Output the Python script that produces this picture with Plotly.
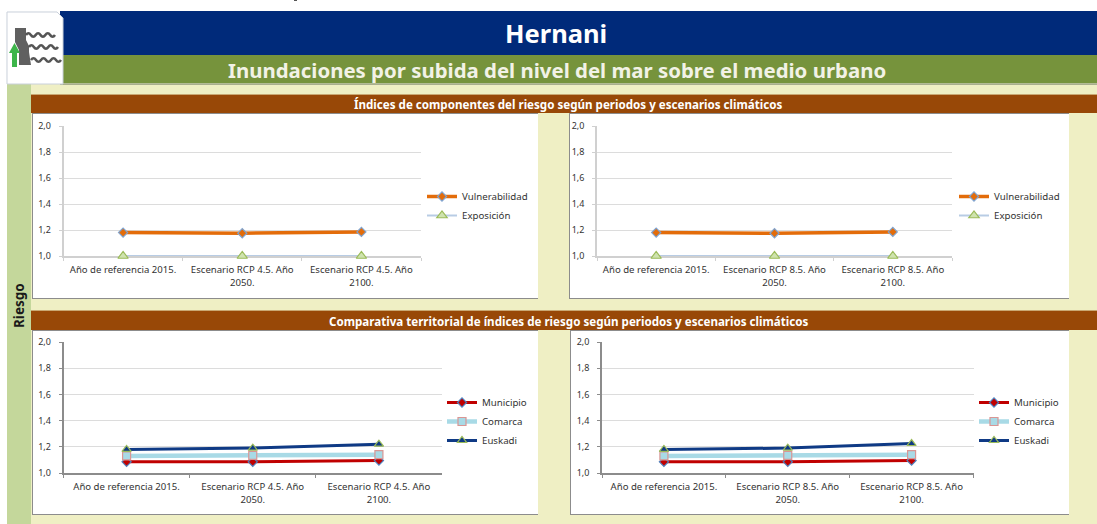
import plotly.graph_objects as go

W, H = 1097, 524

TITLE = "Hernani"
SUBTITLE = "Inundaciones por subida del nivel del mar sobre el medio urbano"
SECTION_TOP = "Índices de componentes del riesgo según periodos y escenarios climáticos"
SECTION_BOTTOM = "Comparativa territorial de índices de riesgo según periodos y escenarios climáticos"
SIDE_LABEL = "Riesgo"

categories_left = ["Año de referencia 2015.", "Escenario RCP 4.5. Año<br>2050.", "Escenario RCP 4.5. Año<br>2100."]
categories_right = ["Año de referencia 2015.", "Escenario RCP 8.5. Año<br>2050.", "Escenario RCP 8.5. Año<br>2100."]
y_ticks = [1.0, 1.2, 1.4, 1.6, 1.8, 2.0]

vulnerabilidad_a = [1.18, 1.175, 1.185]
exposicion_a = [1.0, 1.0, 1.0]
vulnerabilidad_b = [1.18, 1.175, 1.185]
exposicion_b = [1.0, 1.0, 1.0]

municipio_c = [1.085, 1.085, 1.095]
comarca_c = [1.13, 1.135, 1.14]
euskadi_c = [1.18, 1.19, 1.22]
municipio_d = [1.085, 1.085, 1.095]
comarca_d = [1.13, 1.135, 1.14]
euskadi_d = [1.18, 1.19, 1.225]


def px(x):
    return x / W


def py(y):
    return 1 - y / H


BLUE, OLIVE, BROWN = "#002A7A", "#76933C", "#984807"
CREAM, SIDE = "#EFEFC4", "#C4D79B"
TEXT = "#333333"

shapes = []


def rect(x0, y0, x1, y1, fill):
    shapes.append(dict(type="rect", xref="paper", yref="paper", layer="below",
                       x0=px(x0), x1=px(x1), y0=py(y1), y1=py(y0),
                       fillcolor=fill, line=dict(width=0)))


def path(points, fill=None, stroke=None, width=0):
    d = "M " + " L ".join(f"{px(a):.5f},{py(b):.5f}" for a, b in points) + (" Z" if fill else "")
    shapes.append(dict(type="path", xref="paper", yref="paper", layer="below", path=d,
                       fillcolor=fill if fill else "rgba(0,0,0,0)",
                       line=dict(color=stroke or "rgba(0,0,0,0)", width=width)))


def wave(x0, x1, y):
    d = f"M {px(x0):.5f},{py(y):.5f}"
    step = (x1 - x0) / 6
    for i in range(6):
        off = -3.4 if i % 2 == 0 else 3.4
        d += f" Q {px(x0 + step * (i + .5)):.5f},{py(y + off):.5f} {px(x0 + step * (i + 1)):.5f},{py(y):.5f}"
    shapes.append(dict(type="path", xref="paper", yref="paper", layer="below", path=d,
                       line=dict(color="#555555", width=2.6)))


# page bands
rect(7, 84, 31, 524, SIDE)
rect(31, 84, 1097, 524, CREAM)
rect(60, 11, 1097, 55, BLUE)
rect(60, 55, 1097, 83.5, OLIVE)
rect(60, 83.5, 1097, 85, "#A9AE8E")
rect(31, 94, 1097, 95, "#C9A873")
rect(31, 95, 1097, 113, BROWN)
rect(31, 310, 1097, 311, "#C9A873")
rect(31, 311, 1097, 330, BROWN)

# white chart panels with a thin shadow on their edges
panels = [(33, 114, 538, 298), (570, 114, 1069, 298), (33, 331, 538, 514), (571, 331, 1069, 514)]
for x0, y0, x1, y1 in panels:
    rect(x0 - 1, y0 - 1, x1, y1 + 1, "#8C8C8C")
    rect(x0, y0, x1, y1, "white")

# icon
path([(7, 12), (57, 12), (63, 18), (63, 84), (7, 84)], fill="white", stroke="#C9D0DA", width=1)
path([(15, 28), (26, 28), (26, 40), (29, 46), (29, 52), (31, 65), (19, 65), (19, 50), (15, 42)], fill="#606060")
path([(12, 67), (17, 67), (17, 53), (20, 53), (14.5, 43), (9, 53), (12, 53)], fill="#3DB54A")
wave(26, 55, 35)
wave(29, 58, 47)
wave(31, 61, 60)
rect(294, 0, 297, 1, "#555555")

annotations = [
    dict(text=f"<b>{TITLE}</b>", x=px(556), y=py(33), font=dict(size=25.5, color="white")),
    dict(text=f"<b>{SUBTITLE}</b>", x=px(557), y=py(70), font=dict(size=20.4, color="#F2F2E6")),
    dict(text=f"<b>{SECTION_TOP}</b>", x=px(568.5), y=py(104.5), font=dict(size=11.6, color="white")),
    dict(text=f"<b>{SECTION_BOTTOM}</b>", x=px(569), y=py(321), font=dict(size=11.6, color="white")),
    dict(text=f"<b>{SIDE_LABEL}</b>", x=px(19), y=py(306), textangle=-90, font=dict(size=13.5, color="#1A1A1A")),
]
for a in annotations:
    a.update(xref="paper", yref="paper", showarrow=False, xanchor="center", yanchor="middle")

fig = go.Figure()


def line_trace(name, cats, values, n, legend, color, width, symbol, size, fill, edge):
    fig.add_trace(go.Scatter(
        x=cats, y=values, name=name, mode="lines+markers", cliponaxis=False,
        xaxis=f"x{n}", yaxis=f"y{n}", legend=legend,
        line=dict(color=color, width=width),
        marker=dict(symbol=symbol, size=size, color=fill, line=dict(color=edge, width=1.2)),
    ))


ORANGE, PALE, RED, AQUA, NAVY = "#E36C0A", "#B8CCE4", "#C00000", "#A8DAE6", "#0F3A85"


def risk_pair(cats, vul, exp, n, legend):
    line_trace("Vulnerabilidad", cats, vul, n, legend, ORANGE, 3.5, "diamond", 7, ORANGE, "#7FA3CF")
    line_trace("Exposición", cats, exp, n, legend, PALE, 2, "triangle-up", 9, "#CFE3AE", "#9BBB59")


def risk_trio(cats, mun, com, eus, n, legend):
    line_trace("Municipio", cats, mun, n, legend, RED, 3, "diamond", 7, RED, "#4F81BD")
    line_trace("Comarca", cats, com, n, legend, AQUA, 4.5, "square", 8, AQUA, "#D99694")
    line_trace("Euskadi", cats, eus, n, legend, NAVY, 3, "triangle-up", 8, NAVY, "#9BBB59")


risk_pair(categories_left, vulnerabilidad_a, exposicion_a, 1, "legend")
risk_pair(categories_right, vulnerabilidad_b, exposicion_b, 2, "legend2")
risk_trio(categories_left, municipio_c, comarca_c, euskadi_c, 3, "legend3")
risk_trio(categories_right, municipio_d, comarca_d, euskadi_d, 4, "legend4")

plots = [
    (63.5, 421, 126, 256, "#D0D0D0"),
    (597, 952, 126, 256, "#D0D0D0"),
    (63.5, 442, 342, 473, "#8C8C8C"),
    (602, 973.5, 342, 473, "#8C8C8C"),
]
axes = {}
for i, (l, r, t, b, axis_color) in enumerate(plots, start=1):
    key = "" if i == 1 else str(i)
    axes[f"xaxis{key}"] = dict(
        domain=[px(l), px(r)], anchor=f"y{key}" if key else "y", type="category", range=[-0.5, 2.5],
        tickson="boundaries", ticks="outside", ticklen=3, tickcolor=axis_color,
        ticklabelstandoff=4, layer="below traces",
        showline=True, linecolor=axis_color, linewidth=1.5, showgrid=False,
        tickfont=dict(size=9.6, color=TEXT), tickangle=0, automargin=False,
    )
    axes[f"yaxis{key}"] = dict(
        domain=[py(b), py(t)], anchor=f"x{key}" if key else "x", range=[1, 2],
        tickmode="array", tickvals=y_ticks, tickformat=".1f",
        ticks="outside", ticklen=3, tickcolor=axis_color,
        ticklabelstandoff=6, layer="below traces",
        showline=True, linecolor=axis_color, linewidth=1.5,
        showgrid=True, gridcolor="#DCDCDC", gridwidth=1, zeroline=False,
        tickfont=dict(size=9, color=TEXT), automargin=False,
    )


def legend_at(x, y):
    return dict(x=px(x), y=py(y), xref="paper", yref="paper", xanchor="left", yanchor="top",
                bgcolor="rgba(0,0,0,0)", borderwidth=0, itemwidth=30, tracegroupgap=0,
                font=dict(size=9.7, color=TEXT), itemclick=False, itemdoubleclick=False)


fig.update_layout(
    width=W, height=H, margin=dict(l=0, r=0, t=0, b=0), autosize=False,
    paper_bgcolor="white", plot_bgcolor="rgba(0,0,0,0)",
    font=dict(family="Noto Sans, Open Sans, sans-serif", color=TEXT),
    separators=", ", showlegend=True, hovermode=False,
    shapes=shapes, annotations=annotations,
    legend=legend_at(422, 182),
    legend2=legend_at(954, 182),
    legend3=legend_at(442, 388),
    legend4=legend_at(974, 388),
    **axes,
)

fig.write_html("out.html", config=dict(displayModeBar=False),
               post_script="document.body.style.margin='0';document.body.style.overflow='hidden';")
